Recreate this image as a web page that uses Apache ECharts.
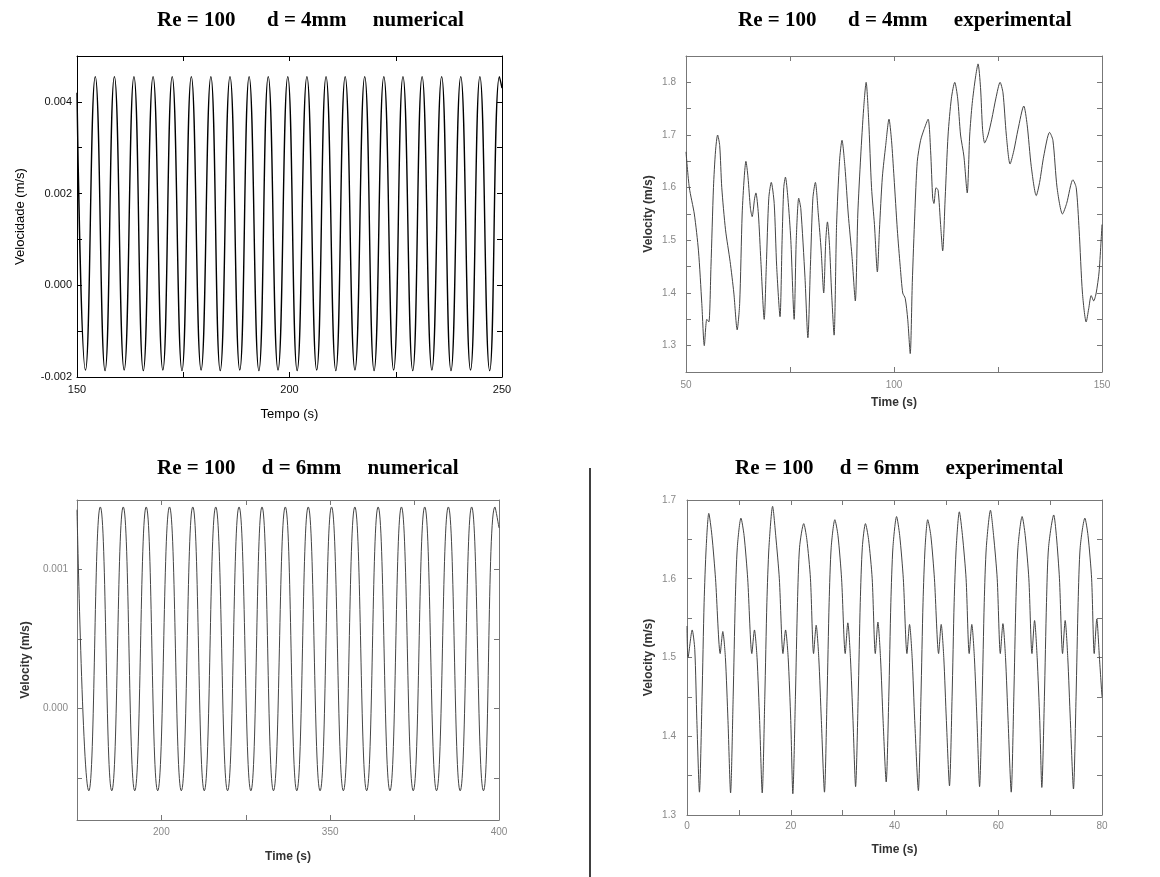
<!DOCTYPE html>
<html><head><meta charset="utf-8">
<script src="https://cdn.jsdelivr.net/npm/echarts@6/dist/echarts.min.js"></script>
<style>html,body{margin:0;padding:0;background:#fff}#c{width:1160px;height:877px}</style>
</head><body><div id="c"></div><script>
// ---------- Panel titles ----------
const panelTitles = [
  'Re = 100      d = 4mm     numerical',
  'Re = 100      d = 4mm     experimental',
  'Re = 100     d = 6mm     numerical',
  'Re = 100     d = 6mm     experimental'
];

// ---------- Panel 1: d = 4mm numerical (extrema) ----------
const d4NumTime = [150,
  152.0, 154.3, 156.6, 158.8, 161.1, 163.4, 165.6, 167.9, 170.2, 172.4,
  174.7, 176.9, 179.2, 181.5, 183.7, 186.0, 188.3, 190.5, 192.8, 195.0,
  197.3, 199.6, 201.8, 204.1, 206.4, 208.6, 210.9, 213.1, 215.4, 217.7,
  219.9, 222.2, 224.5, 226.7, 229.0, 231.2, 233.5, 235.8, 238.0, 240.3,
  242.6, 244.8, 247.1, 249.4, 250];
const d4NumVel = [0.0042,
  -0.00185, 0.00455, -0.00186, 0.00455, -0.00185, 0.00455, -0.00186, 0.00455, -0.00185, 0.00455,
  -0.00186, 0.00455, -0.00185, 0.00455, -0.00186, 0.00455, -0.00185, 0.00455, -0.00186, 0.00455,
  -0.00185, 0.00455, -0.00186, 0.00455, -0.00185, 0.00455, -0.00186, 0.00455, -0.00185, 0.00455,
  -0.00186, 0.00455, -0.00185, 0.00455, -0.00186, 0.00455, -0.00185, 0.00455, -0.00186, 0.00455,
  -0.00185, 0.00455, -0.00186, 0.00455, 0.0043];

// ---------- Panel 2: d = 4mm experimental ----------
const d4ExpTime = [50,50.8,52.0,53.0,53.8,54.4,55.0,55.5,56.0,56.6,
  57.1,57.6,58.1,58.6,59.5,60.6,61.5,62.3,62.9,63.5,
  64.0,64.4,64.9,65.5,65.9,66.5,66.8,67.4,68.0,68.8,
  69.3,69.9,70.5,71.2,71.8,72.6,73.1,73.5,73.9,74.5,
  75.2,76.0,76.5,77.1,77.6,78.6,79.3,79.9,80.5,81.1,
  81.8,82.5,83.1,83.6,84.0,84.5,85.0,85.6,86.2,86.9,
  87.5,88.2,89.0,89.9,90.7,91.3,92.0,92.7,93.3,93.9,
  94.6,95.3,96.0,96.5,97.2,98.0,98.8,99.4,100.0,100.8,
  101.5,102.1,102.7,103.3,103.9,104.4,105.0,105.6,106.4,107.2,
  108.2,108.8,109.3,109.6,110.1,110.6,111.2,111.7,112.3,113.0,
  113.8,114.6,115.3,116.0,116.8,117.6,118.2,118.8,119.6,120.2,
  120.8,121.3,121.8,122.6,123.5,124.5,125.5,126.2,127.0,127.9,
  128.8,129.8,131.2,132.0,133.0,134.2,135.0,136.0,137.4,138.2,
  139.2,140.5,141.5,143.0,143.8,144.5,145.3,146.2,146.8,147.4,
  148.0,148.6,149.3,150];
const d4ExpVel = [1.668,1.60,1.55,1.48,1.38,1.30,1.35,1.345,1.45,1.60,
  1.67,1.70,1.68,1.60,1.52,1.46,1.40,1.33,1.38,1.55,
  1.62,1.65,1.62,1.56,1.545,1.58,1.59,1.55,1.46,1.35,
  1.45,1.58,1.61,1.57,1.45,1.355,1.50,1.60,1.62,1.58,
  1.50,1.35,1.50,1.58,1.56,1.43,1.315,1.45,1.58,1.61,
  1.55,1.48,1.40,1.50,1.535,1.49,1.40,1.32,1.53,1.65,
  1.69,1.64,1.55,1.47,1.385,1.55,1.66,1.75,1.80,1.73,
  1.60,1.53,1.44,1.52,1.62,1.68,1.73,1.69,1.62,1.52,
  1.45,1.40,1.39,1.35,1.285,1.42,1.55,1.65,1.69,1.71,
  1.73,1.67,1.58,1.57,1.60,1.595,1.53,1.48,1.58,1.70,
  1.77,1.80,1.77,1.70,1.66,1.59,1.70,1.76,1.81,1.835,
  1.79,1.71,1.685,1.70,1.73,1.77,1.80,1.78,1.70,1.645,
  1.67,1.71,1.755,1.72,1.64,1.585,1.61,1.66,1.705,1.69,
  1.60,1.55,1.57,1.615,1.60,1.52,1.40,1.345,1.37,1.395,
  1.385,1.40,1.44,1.53];

// ---------- Panel 3: d = 6mm numerical ----------
const d6NumTime = [275,
  278.5, 281.9, 285.3, 288.7, 292.1, 295.5, 298.9, 302.4, 305.9, 309.3,
  312.7, 316.1, 319.6, 323.0, 326.5, 329.8, 333.2, 336.7, 340.1, 343.5,
  347.0, 350.4, 353.9, 357.3, 360.8, 364.2, 367.7, 371.1, 374.6, 378.0,
  381.5, 385.0, 388.5, 391.9, 395.4, 398.8, 400];
const d6NumVel = [0.00143,
  -0.00059, 0.00145, -0.00059, 0.00145, -0.00059, 0.00145, -0.00059, 0.00145, -0.00059, 0.00145,
  -0.00059, 0.00145, -0.00059, 0.00145, -0.00059, 0.00145, -0.00059, 0.00145, -0.00059, 0.00145,
  -0.00059, 0.00145, -0.00059, 0.00145, -0.00059, 0.00145, -0.00059, 0.00145, -0.00059, 0.00145,
  -0.00059, 0.00145, -0.00059, 0.00145, -0.00059, 0.00145, 0.0013];

// ---------- Panel 4: d = 6mm experimental ----------
const d6ExpTime = [0, 0.2, 1.0, 1.5, 1.9,
  2.4, 2.9, 3.3, 3.7, 4.2, 4.8, 5.5, 6.4, 6.9, 7.4, 7.9,
  8.4, 8.9, 9.3, 9.7, 10.4, 11.0, 11.7, 12.5, 13.0, 13.5, 14.0,
  14.5, 15.0, 15.4, 15.8, 16.5, 17.1, 17.8, 18.5, 19.0, 19.5, 20.0,
  20.4, 20.9, 21.3, 21.7, 22.5, 23.1, 23.8, 24.4, 24.9, 25.4, 25.9,
  26.5, 27.0, 27.4, 27.8, 28.5, 29.1, 29.8, 30.5, 31.0, 31.5, 32.0,
  32.5, 33.0, 33.4, 33.8, 34.4, 35.0, 35.7, 36.3, 36.8, 37.3, 37.8,
  38.4, 38.9, 39.3, 39.7, 40.4, 41.0, 41.7, 42.4, 42.9, 43.4, 43.9,
  44.6, 45.1, 45.5, 45.9, 46.4, 47.0, 47.7, 48.5, 49.0, 49.5, 50.0,
  50.6, 51.1, 51.5, 51.9, 52.5, 53.1, 53.8, 54.4, 54.9, 55.4, 55.9,
  56.4, 56.9, 57.3, 57.7, 58.5, 59.1, 59.8, 60.4, 60.9, 61.4, 61.9,
  62.5, 63.0, 63.4, 63.8, 64.6, 65.2, 65.9, 66.5, 67.0, 67.5, 68.0,
  68.4, 68.9, 69.3, 69.7, 70.7, 71.2, 71.8, 72.4, 72.9, 73.4, 73.9,
  74.5, 75.0, 75.4, 75.8, 76.7, 77.3, 78.0, 78.5, 79.0, 79.5, 80];
const d6ExpVel = [1.54, 1.50, 1.535, 1.51, 1.42,
  1.329, 1.45, 1.57, 1.64, 1.683, 1.655, 1.60, 1.505, 1.533, 1.50, 1.42,
  1.328, 1.45, 1.57, 1.64, 1.677, 1.655, 1.60, 1.505, 1.535, 1.50, 1.42,
  1.328, 1.45, 1.57, 1.64, 1.692, 1.655, 1.60, 1.505, 1.535, 1.50, 1.42,
  1.327, 1.45, 1.57, 1.64, 1.670, 1.650, 1.60, 1.505, 1.541, 1.50, 1.42,
  1.329, 1.45, 1.57, 1.64, 1.675, 1.655, 1.60, 1.505, 1.544, 1.50, 1.42,
  1.336, 1.45, 1.57, 1.64, 1.670, 1.650, 1.60, 1.505, 1.545, 1.50, 1.42,
  1.342, 1.45, 1.57, 1.64, 1.679, 1.655, 1.60, 1.505, 1.542, 1.50, 1.42,
  1.331, 1.45, 1.57, 1.64, 1.675, 1.655, 1.60, 1.505, 1.542, 1.50, 1.42,
  1.337, 1.45, 1.57, 1.64, 1.685, 1.655, 1.60, 1.505, 1.542, 1.50, 1.42,
  1.336, 1.45, 1.57, 1.64, 1.687, 1.655, 1.60, 1.505, 1.543, 1.50, 1.42,
  1.329, 1.45, 1.57, 1.64, 1.679, 1.655, 1.60, 1.505, 1.547, 1.50, 1.42,
  1.335, 1.45, 1.57, 1.64, 1.681, 1.655, 1.60, 1.505, 1.547, 1.50, 1.42,
  1.333, 1.45, 1.57, 1.64, 1.677, 1.655, 1.60, 1.505, 1.549, 1.50, 1.45];

// ---------- Axis ticks / labels ----------
const p1XLabels = [150, 200, 250];
const p1XTicks = [175, 200, 225];
const p1YLabels = [-0.002, 0.000, 0.002, 0.004];
const p1YTicks = [-0.001, 0.000, 0.001, 0.002, 0.003, 0.004];

const p2XLabels = [50, 100, 150];
const p2XTicks = [75, 100, 125];
const p2YLabels = [1.3, 1.4, 1.5, 1.6, 1.7, 1.8];
const p2YTicks = [1.3, 1.35, 1.4, 1.45, 1.5, 1.55, 1.6, 1.65, 1.7, 1.75, 1.8];

const p3XLabelValues = [300, 350, 400];
const p3XLabelTexts = ['200', '350', '400'];
const p3XTicks = [300, 325, 350, 375];
const p3YLabels = [0.000, 0.001];
const p3YTicks = [-0.0005, 0.000, 0.0005, 0.001];

const p4XLabels = [0, 20, 40, 60, 80];
const p4XTicks = [10, 20, 30, 40, 50, 60, 70];
const p4YLabels = [1.3, 1.4, 1.5, 1.6, 1.7];
const p4YTicks = [1.35, 1.4, 1.45, 1.5, 1.55, 1.6, 1.65];

const zip = (a, b) => a.map((t, i) => [t, b[i]]);
const expName = {fontSize: 12, color: '#333', fontWeight: 'bold', fontFamily: 'Liberation Sans'};

const panels = [
  { grid: {left: 77, top: 56, width: 425, height: 321},
    x: {min: 150, max: 250, labels: p1XLabels, ticks: p1XTicks, fmt: v => String(v), name: 'Tempo (s)', gap: 31, margin: 7},
    y: {min: -0.002, max: 0.005, labels: p1YLabels, ticks: p1YTicks, fmt: v => v.toFixed(3), name: 'Velocidade (m/s)', gap: 50, margin: 5},
    data: zip(d4NumTime, d4NumVel), smooth: 0.5, line: '#000', lw: 1.4,
    axisColor: '#000', labelColor: '#111', labelSize: 11, nameStyle: {fontSize: 13, color: '#000', fontFamily: 'Liberation Sans'} },
  { grid: {left: 686, top: 56, width: 416, height: 316},
    x: {min: 50, max: 150, labels: p2XLabels, ticks: p2XTicks, fmt: v => String(v), name: 'Time (s)', gap: 25, margin: 8},
    y: {min: 1.25, max: 1.85, labels: p2YLabels, ticks: p2YTicks, fmt: v => v.toFixed(1), name: 'Velocity (m/s)', gap: 31, margin: 10},
    data: zip(d4ExpTime, d4ExpVel), smooth: 0.25, line: '#444', lw: 1,
    axisColor: '#777', labelColor: '#888', labelSize: 10, nameStyle: expName },
  { grid: {left: 77, top: 500, width: 422, height: 320},
    x: {min: 275, max: 400, labels: p3XLabelValues, ticks: p3XTicks,
        fmt: v => p3XLabelTexts[p3XLabelValues.indexOf(v)], name: 'Time (s)', gap: 31, margin: 7},
    y: {min: -0.0008, max: 0.0015, labels: p3YLabels, ticks: p3YTicks, fmt: v => v.toFixed(3), name: 'Velocity (m/s)', gap: 45, margin: 9},
    data: zip(d6NumTime, d6NumVel), smooth: 0.5, line: '#444', lw: 1,
    axisColor: '#777', labelColor: '#888', labelSize: 10, nameStyle: expName },
  { grid: {left: 687, top: 500, width: 415, height: 315},
    x: {min: 0, max: 80, labels: p4XLabels, ticks: p4XTicks, fmt: v => String(v), name: 'Time (s)', gap: 29, margin: 6},
    y: {min: 1.3, max: 1.7, labels: p4YLabels, ticks: p4YTicks, fmt: v => v.toFixed(1), name: 'Velocity (m/s)', gap: 32, margin: 11},
    data: zip(d6ExpTime, d6ExpVel), smooth: 0.25, line: '#444', lw: 1,
    axisColor: '#777', labelColor: '#888', labelSize: 10, nameStyle: expName }
];

const grids = [], xAxes = [], yAxes = [], series = [];
panels.forEach((p, i) => {
  grids.push(Object.assign({containLabel: false}, p.grid));
  const line = {show: true, onZero: false, lineStyle: {color: p.axisColor, width: 1}};
  const tick = ticks => ({show: true, inside: true, length: 5, customValues: ticks, lineStyle: {color: p.axisColor, width: 1}});
  const lab = (vals, fmt, margin) => ({show: true, customValues: vals, formatter: fmt, fontSize: p.labelSize,
    color: p.labelColor, fontFamily: 'Liberation Sans', margin: margin});
  xAxes.push({gridIndex: i, type: 'value', position: 'bottom', min: p.x.min, max: p.x.max,
    axisLine: line, axisTick: tick(p.x.ticks), axisLabel: lab(p.x.labels, p.x.fmt, p.x.margin), splitLine: {show: false},
    name: p.x.name, nameLocation: 'middle', nameGap: p.x.gap, nameTextStyle: p.nameStyle});
  xAxes.push({gridIndex: i, type: 'value', position: 'top', min: p.x.min, max: p.x.max,
    axisLine: line, axisTick: tick(p.x.ticks), axisLabel: {show: false}, splitLine: {show: false}});
  yAxes.push({gridIndex: i, type: 'value', position: 'left', min: p.y.min, max: p.y.max,
    axisLine: line, axisTick: tick(p.y.ticks), axisLabel: lab(p.y.labels, p.y.fmt, p.y.margin), splitLine: {show: false},
    name: p.y.name, nameLocation: 'middle', nameGap: p.y.gap, nameRotate: 90, nameTextStyle: p.nameStyle});
  yAxes.push({gridIndex: i, type: 'value', position: 'right', min: p.y.min, max: p.y.max,
    axisLine: line, axisTick: tick(p.y.ticks), axisLabel: {show: false}, splitLine: {show: false}});
  series.push({type: 'line', xAxisIndex: 2 * i, yAxisIndex: 2 * i, data: p.data, showSymbol: false,
    symbol: 'none', smooth: p.smooth, lineStyle: {color: p.line, width: p.lw}, animation: false});
});

const titleStyle = {fontFamily: 'Liberation Serif', fontWeight: 'bold', fontSize: 21, color: '#000'};
const chart = echarts.init(document.getElementById('c'), null, {renderer: 'canvas'});
chart.setOption({
  animation: false,
  backgroundColor: '#fff',
  title: [
    {text: panelTitles[0], left: 152, top: 5, textStyle: titleStyle},
    {text: panelTitles[1], left: 733, top: 5, textStyle: titleStyle},
    {text: panelTitles[2], left: 152, top: 453, textStyle: titleStyle},
    {text: panelTitles[3], left: 730, top: 453, textStyle: titleStyle}
  ],
  grid: grids, xAxis: xAxes, yAxis: yAxes, series: series,
  graphic: [{type: 'line', shape: {x1: 590, y1: 468, x2: 590, y2: 877}, style: {stroke: '#000', lineWidth: 1.5}}]
});
</script></body></html>
